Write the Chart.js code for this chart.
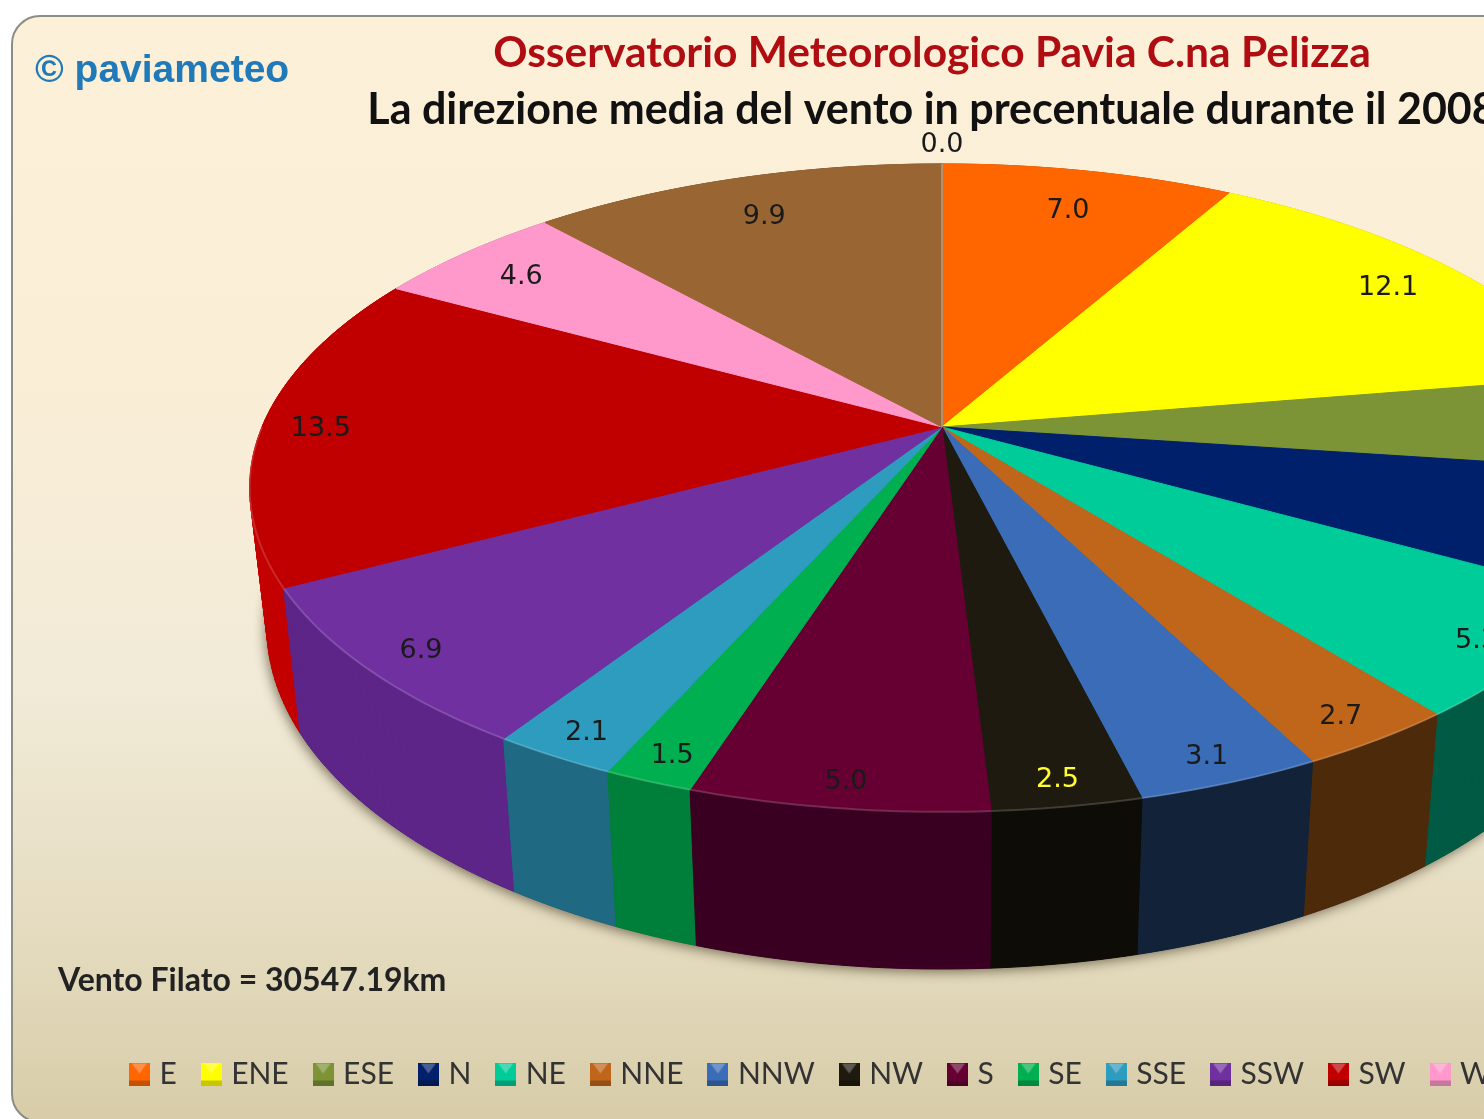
<!DOCTYPE html>
<html>
<head>
<meta charset="utf-8">
<title>Direzione del vento 2008</title>
<script src="https://cdn.jsdelivr.net/npm/chart.js@4"></script>
<style>
  html, body { margin: 0; padding: 0; background: #fff; overflow: hidden; }
  #wrap { width: 1484px; height: 1119px; overflow: hidden; }
  #wrap canvas { display: block; filter: blur(0.6px); }
</style>
</head>
<body>
<div id="wrap"><canvas id="windChart" width="1884" height="1119"></canvas></div>
<script>
// Data
const categories = ["E", "ENE", "ESE", "N", "NE", "NNE", "NNW", "NW", "S", "SE", "SSE", "SSW", "SW", "W", "WNW", "WSW"];
const percentages = [7.0, 12.1, 4.1, 5.1, 5.3, 2.7, 3.1, 2.5, 5.0, 1.5, 2.1, 6.9, 13.5, 4.6, 9.9, 0.0];
const titleText = "Osservatorio Meteorologico Pavia C.na Pelizza";
const subtitleText = "La direzione media del vento in precentuale durante il 2008";
const creditText = "© paviameteo";
const totalText = "Vento Filato = 30547.19km";

// Colours
const topColors = ["#ff6600", "#ffff00", "#7c9336", "#00206b", "#00cc99", "#c0661a", "#3a6cb8", "#1f1a0f",
  "#660033", "#00b050", "#2e9cbf", "#7030a0", "#c00000", "#ff99cc", "#996633", "#a8a08f"];
const sideColors = ["#b34700", "#b3b300", "#56672a", "#00164b", "#005a44", "#4d2a0a", "#122238", "#0e0c06",
  "#3a0022", "#007f3a", "#1f6a82", "#5c2587", "#c40000", "#b36b8f", "#6b4724", "#77705f"];
const valueColors = categories.map(c => (c === "NW" ? "#ffff33" : "#1a1a1a"));

// Perspective of the pie disc: apex on screen, x and y reach, tilt
const apex = { x: 942, y: 427 };
const reachX = 680, reachY = 312.5, tilt = 0.188;
// Lower rim compared with the upper one
const lowScaleX = 0.975, lowScaleY = 1.055, lowShift = 136;
// Titles are centred a little left of the pie
const titleCentre = 932;

function project(angle, f, low) {
  // angle is the arc element's canvas angle, -PI/2 is north
  const u = Math.cos(angle) * f, v = Math.sin(angle) * f;
  const w = 1 - tilt * v;
  let x = reachX * u / w, y = reachY * v / w;
  if (low) { x *= lowScaleX; y = y * lowScaleY + lowShift; }
  return { x: apex.x + x, y: apex.y + y };
}

function traceRim(ctx, a0, a1, low) {
  const steps = Math.max(2, Math.ceil((a1 - a0) * 60));
  for (let i = 0; i <= steps; i++) {
    const p = project(a0 + (a1 - a0) * i / steps, 1, low);
    ctx.lineTo(p.x, p.y);
  }
}

function bevelBox(color) {
  // small bevelled legend box
  const c = document.createElement("canvas");
  c.width = 21; c.height = 23;
  const g = c.getContext("2d");
  g.fillStyle = color;
  g.fillRect(0, 0, 21, 23);
  g.fillStyle = "rgba(255,255,255,0.28)";
  g.beginPath(); g.moveTo(3, 1); g.lineTo(18, 1); g.lineTo(10.5, 11); g.fill();
  g.fillStyle = "rgba(0,0,0,0.22)";
  g.fillRect(0, 18, 21, 5);
  return c;
}

const framePlugin = {
  id: "frame",
  afterLayout(chart) {
    // move title and subtitle boxes so they centre on titleCentre
    chart.boxes.filter(b => b.position === "top").forEach(b => {
      const shift = titleCentre - (b.left + b.right) / 2;
      b.left += shift;
      b.right += shift;
    });
  },
  beforeDraw(chart) {
    const ctx = chart.ctx;
    const grad = ctx.createLinearGradient(0, 16, 0, 1122);
    grad.addColorStop(0, "#fdf0d8");
    grad.addColorStop(0.3, "#fbeed6");
    grad.addColorStop(0.6, "#f2ebd8");
    grad.addColorStop(0.85, "#e3dabd");
    grad.addColorStop(1, "#d8cca8");
    ctx.save();
    ctx.beginPath();
    ctx.roundRect(12, 16, 1860, 1106, 28);
    ctx.fillStyle = grad;
    ctx.fill();
    ctx.lineWidth = 2;
    ctx.strokeStyle = "#8d8d88";
    ctx.stroke();
    ctx.restore();
  }
};

const piePlugin = {
  id: "perspectivePie",
  beforeDatasetsDraw(chart) {
    const ctx = chart.ctx;
    const arcs = chart.getDatasetMeta(0).data;
    ctx.save();

    // soft shadow under the pie
    ctx.save();
    ctx.shadowColor = "rgba(40,30,10,0.55)";
    ctx.shadowBlur = 12;
    ctx.shadowOffsetX = -2;
    ctx.shadowOffsetY = 3;
    ctx.fillStyle = "#333";
    ctx.beginPath();
    traceRim(ctx, 0, Math.PI * 2, true);
    ctx.closePath();
    ctx.fill();
    ctx.restore();

    // side walls, back ones first, in small steps so the silhouette stays closed
    const order = arcs.map((a, i) => i).sort((a, b) =>
      Math.sin((arcs[a].startAngle + arcs[a].endAngle) / 2) - Math.sin((arcs[b].startAngle + arcs[b].endAngle) / 2));
    order.forEach(i => {
      const a = arcs[i];
      const span = a.endAngle - a.startAngle;
      if (span <= 0) return;
      const steps = Math.ceil(span * 60);
      ctx.fillStyle = sideColors[i];
      ctx.strokeStyle = sideColors[i];
      ctx.lineWidth = 1;
      for (let s = 0; s < steps; s++) {
        const a0 = a.startAngle + span * s / steps, a1 = a.startAngle + span * (s + 1) / steps;
        const p0 = project(a0, 1, false), p1 = project(a1, 1, false);
        const q0 = project(a0, 1, true), q1 = project(a1, 1, true);
        ctx.beginPath();
        ctx.moveTo(p0.x, p0.y);
        ctx.lineTo(p1.x, p1.y);
        ctx.lineTo(q1.x, q1.y);
        ctx.lineTo(q0.x, q0.y);
        ctx.closePath();
        ctx.fill();
        ctx.stroke();
      }
    });

    // top of the slices
    arcs.forEach((a, i) => {
      const c = project(a.startAngle, 0, false);
      ctx.beginPath();
      ctx.moveTo(c.x, c.y);
      traceRim(ctx, a.startAngle, a.endAngle, false);
      ctx.closePath();
      ctx.fillStyle = topColors[i];
      ctx.strokeStyle = topColors[i];
      ctx.lineWidth = 1;
      ctx.fill();
      ctx.stroke();
      // thin light edge along the front rim
      const f0 = Math.max(a.startAngle, 0), f1 = Math.min(a.endAngle, Math.PI);
      if (f1 > f0) {
        ctx.beginPath();
        traceRim(ctx, f0, f1, false);
        ctx.strokeStyle = "rgba(255,255,255,0.16)";
        ctx.lineWidth = 2;
        ctx.stroke();
      }
    });

    // value labels, inside the rim, outside when the slice is empty
    ctx.font = "27px 'DejaVu Sans'";
    ctx.textAlign = "center";
    ctx.textBaseline = "middle";
    arcs.forEach((a, i) => {
      const mid = (a.startAngle + a.endAngle) / 2;
      const sin = Math.sin(mid), cos = Math.cos(mid);
      const f = percentages[i] === 0 ? 1.105
        : 0.885 + 0.05 * sin + (sin < 0.2 ? 0.03 * cos * cos : 0);
      const p = project(mid, f, false);
      ctx.fillStyle = valueColors[i];
      ctx.fillText(percentages[i].toFixed(1), p.x, p.y + 4);
    });
    ctx.restore();
    return false;
  },
  afterDraw(chart) {
    const ctx = chart.ctx;
    ctx.save();
    ctx.textAlign = "left";
    ctx.textBaseline = "middle";
    ctx.fillStyle = "#2079b8";
    ctx.font = "bold 39px 'Liberation Sans'";
    ctx.fillText(creditText, 35, 71);
    ctx.fillStyle = "#222";
    ctx.font = "bold 32px Lato";
    ctx.fillText(totalText, 58, 981);
    ctx.restore();
  }
};

new Chart(document.getElementById("windChart"), {
  type: "pie",
  data: {
    labels: categories,
    datasets: [{ data: percentages, backgroundColor: topColors, borderWidth: 0 }]
  },
  plugins: [framePlugin, piePlugin],
  options: {
    responsive: false,
    animation: false,
    layout: { padding: { left: 105, bottom: 20 } },
    plugins: {
      title: {
        display: true,
        text: titleText,
        color: "#b00d12",
        font: { family: "Lato", size: 42.5, weight: "bold" },
        padding: { top: 28, bottom: 0 }
      },
      subtitle: {
        display: true,
        text: subtitleText,
        color: "#111",
        font: { family: "Lato", size: 43, weight: "bold" },
        padding: { top: 5, bottom: 0 }
      },
      legend: {
        position: "bottom",
        align: "start",
        labels: {
          usePointStyle: true,
          boxWidth: 10,
          boxHeight: 23,
          padding: 29.4,
          color: "#333",
          font: { family: "Lato", size: 30 },
          generateLabels(chart) {
            const items = Chart.overrides.pie.plugins.legend.labels.generateLabels(chart);
            items.forEach((it, i) => { it.pointStyle = bevelBox(topColors[i]); });
            return items;
          }
        }
      },
      tooltip: { enabled: false }
    }
  }
});
</script>
</body>
</html>
